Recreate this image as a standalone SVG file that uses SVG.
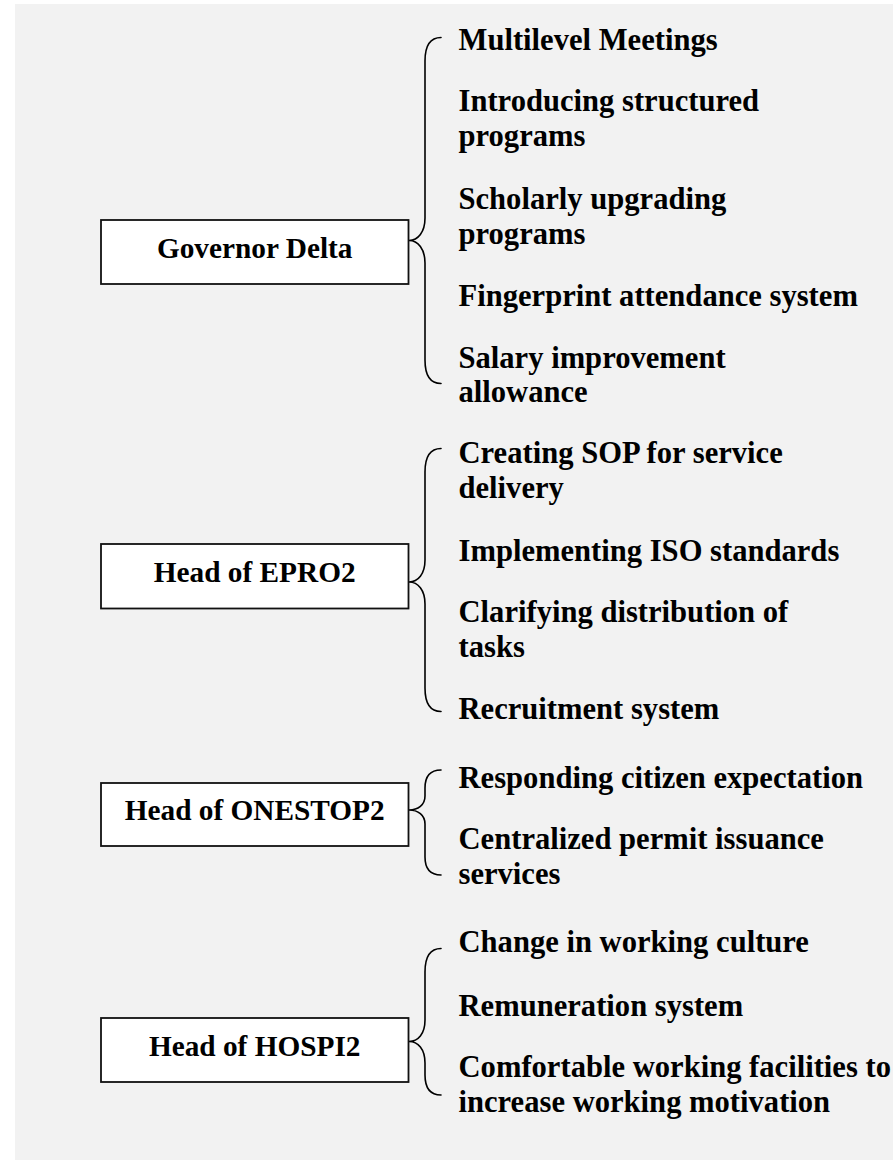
<svg xmlns="http://www.w3.org/2000/svg" width="893" height="1160" viewBox="0 0 893 1160">
  <style>
    .box { fill: #ffffff; stroke: #111111; stroke-width: 1.8; }
    .brace { fill: none; stroke: #000000; stroke-width: 1.6; stroke-linecap: round; }
    .head { font-family: "Liberation Serif", "Times New Roman", serif; font-weight: bold; font-size: 29.3px; fill: #000000; text-anchor: middle; }
    .item { font-family: "Liberation Serif", "Times New Roman", serif; font-weight: bold; font-size: 30.6px; fill: #000000; }
  </style>

  <!-- page background -->
  <rect x="0" y="0" width="893" height="1160" fill="#ffffff"/>
  <rect x="15" y="4" width="878" height="1156" fill="#f2f2f2"/>

  <!-- braces linking each head to its list of measures -->
  <g id="connectors">
    <path class="brace" d="M441,37.5 C431,37.5 425,45 425,61 L425,218 C425,232 418,240.5 409,240.5 C418,240.5 425,249 425,263 L425,360 C425,376 431,383.5 441,383.5"/>
    <path class="brace" d="M441,448.5 C431,448.5 425,456 425,472 L425,560 C425,574 418,582 409,582 C418,582 425,590 425,604 L425,688 C425,704 431,711.5 441,711.5"/>
    <path class="brace" d="M441,770 C431,770 425,776 425,788 L425,796 C425,805 418,810 409,810 C418,810 425,815 425,824 L425,857 C425,869 431,875 441,875"/>
    <path class="brace" d="M441,948.5 C431,948.5 425,956 425,972 L425,1020 C425,1034 418,1041.5 409,1041.5 C418,1041.5 425,1049 425,1063 L425,1075 C425,1089 431,1095 441,1095"/>
  </g>

  <!-- Governor Delta -->
  <g id="governor-delta">
    <rect class="box" x="101" y="220" width="307.5" height="64"/>
    <text class="head" x="254.7" y="258">Governor Delta</text>
  </g>
  <g id="governor-delta-items">
    <text class="item" x="458.5" y="50">Multilevel Meetings</text>
    <text class="item" x="458.5" y="110.7">Introducing structured</text>
    <text class="item" x="458.5" y="146">programs</text>
    <text class="item" x="458.5" y="209">Scholarly upgrading</text>
    <text class="item" x="458.5" y="244">programs</text>
    <text class="item" x="458.5" y="305.7">Fingerprint attendance system</text>
    <text class="item" x="458.5" y="367.7">Salary improvement</text>
    <text class="item" x="458.5" y="401.5">allowance</text>
  </g>

  <!-- Head of EPRO2 -->
  <g id="head-epro2">
    <rect class="box" x="101" y="544" width="307.5" height="64.5"/>
    <text class="head" x="254.7" y="582.3">Head of EPRO2</text>
  </g>
  <g id="head-epro2-items">
    <text class="item" x="458.5" y="462.7">Creating SOP for service</text>
    <text class="item" x="458.5" y="498.3">delivery</text>
    <text class="item" x="458.5" y="560.7">Implementing ISO standards</text>
    <text class="item" x="458.5" y="622.3">Clarifying distribution of</text>
    <text class="item" x="458.5" y="657.3">tasks</text>
    <text class="item" x="458.5" y="719.3">Recruitment system</text>
  </g>

  <!-- Head of ONESTOP2 -->
  <g id="head-onestop2">
    <rect class="box" x="101" y="783" width="307.5" height="63"/>
    <text class="head" x="254.7" y="820">Head of ONESTOP2</text>
  </g>
  <g id="head-onestop2-items">
    <text class="item" x="458.5" y="788.3">Responding citizen expectation</text>
    <text class="item" x="458.5" y="849.3">Centralized permit issuance</text>
    <text class="item" x="458.5" y="884.3">services</text>
  </g>

  <!-- Head of HOSPI2 -->
  <g id="head-hospi2">
    <rect class="box" x="101" y="1018" width="307.5" height="64"/>
    <text class="head" x="254.7" y="1056">Head of HOSPI2</text>
  </g>
  <g id="head-hospi2-items">
    <text class="item" x="458.5" y="952.3">Change in working culture</text>
    <text class="item" x="458.5" y="1015.7">Remuneration system</text>
    <text class="item" x="458.5" y="1077.3">Comfortable working facilities to</text>
    <text class="item" x="458.5" y="1111.7">increase working motivation</text>
  </g>
</svg>
